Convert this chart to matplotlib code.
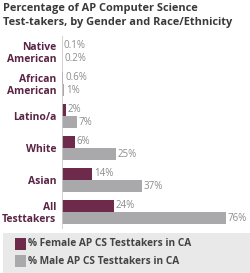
import matplotlib.pyplot as plt
from matplotlib.patches import Rectangle

categories = ['Native\nAmerican', 'African\nAmerican', 'Latino/a', 'White', 'Asian', 'All\nTesttakers']
female = [0.1, 0.6, 2, 6, 14, 24]
male = [0.2, 1, 7, 25, 37, 76]
female_labels = ['0.1%', '0.6%', '2%', '6%', '14%', '24%']
male_labels = ['0.2%', '1%', '7%', '25%', '37%', '76%']

c_female = '#6d2a4a'
c_male = '#a9a9ab'
c_cat = '#5a2444'
c_val = '#8c8c8c'

plt.rcParams['font.family'] = ['Open Sans', 'DejaVu Sans']

fig = plt.figure(figsize=(2.5, 2.73), dpi=100)
ax = fig.add_axes([62 / 250, 45 / 273, 188 / 250, 192 / 273])

h = 0.39
y = list(range(len(categories)))
ax.barh([i - h / 2 for i in y], female, height=h, color=c_female)
ax.barh([i + h / 2 for i in y], male, height=h, color=c_male)

for i in y:
    ax.text(female[i] + 0.8, i - h / 2, female_labels[i], ha='left', va='center',
            fontsize=7, color=c_val)
    ax.text(male[i] + 0.8, i + h / 2, male_labels[i], ha='left', va='center',
            fontsize=7, color=c_val)

ax.set_xlim(0, 87)
ax.set_ylim(len(categories) - 0.5, -0.5)
ax.set_yticks(y)
ax.set_yticklabels(categories, fontsize=7.5, fontweight='bold', color=c_cat,
                   linespacing=1.05)
ax.tick_params(axis='y', length=0, pad=4)
ax.set_xticks([])
for s in ['top', 'right', 'bottom']:
    ax.spines[s].set_visible(False)
ax.spines['left'].set_color('#cccccc')
ax.spines['left'].set_linewidth(0.6)

fig.text(3 / 250, 1 - 8 / 273, 'Percentage of AP Computer Science', ha='left', va='center',
         fontsize=7.9, fontweight='bold', color='#3a3a3a')
fig.text(3 / 250, 1 - 23 / 273, 'Test-takers, by Gender and Race/Ethnicity', ha='left',
         va='center', fontsize=7.9, fontweight='bold', color='#3a3a3a')

# legend box
fig.patches.append(Rectangle((3 / 250, 0), 247 / 250, 40 / 273, transform=fig.transFigure,
                             facecolor='#e9e9e9', edgecolor='none', zorder=0))
fig.patches.append(Rectangle((15 / 250, 1 - 250 / 273), 11 / 250, 12 / 273,
                             transform=fig.transFigure, facecolor=c_female, zorder=1))
fig.patches.append(Rectangle((15 / 250, 1 - 267 / 273), 11 / 250, 12 / 273,
                             transform=fig.transFigure, facecolor=c_male, zorder=1))
fig.text(28 / 250, 1 - 244 / 273, '% Female AP CS Testtakers in CA', ha='left', va='center',
         fontsize=7.3, fontweight='bold', color='#444444')
fig.text(28 / 250, 1 - 261 / 273, '% Male AP CS Testtakers in CA', ha='left', va='center',
         fontsize=7.3, fontweight='bold', color='#444444')

fig.savefig('out.png', dpi=100)
